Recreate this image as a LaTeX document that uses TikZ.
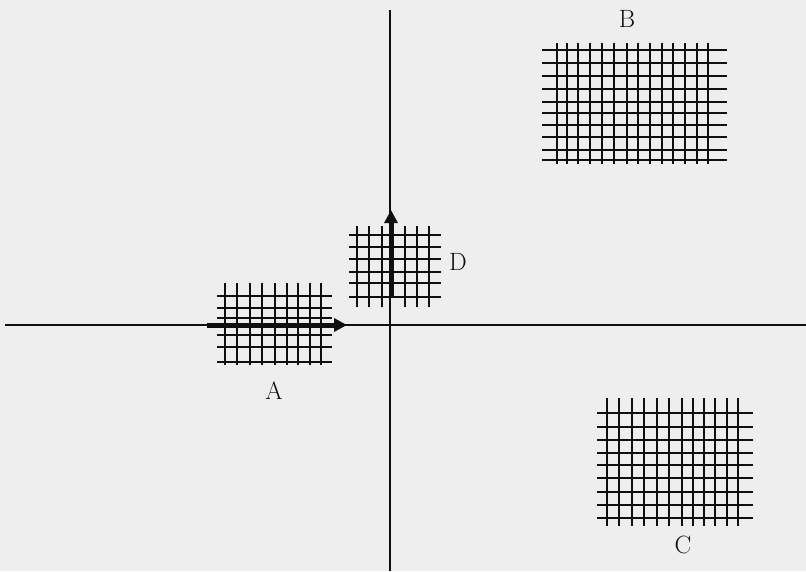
\documentclass[tikz,border=0pt]{standalone}
\usetikzlibrary{arrows.meta}
\definecolor{paper}{RGB}{238,238,238}
\definecolor{ink}{RGB}{15,15,15}
\tikzset{
  gridline/.style={draw=ink, line width=1.9pt},
  axisline/.style={draw=ink, line width=1.6pt},
  bigarrow/.style={draw=ink, line width=5pt, -{Triangle[length=13pt,width=13pt]}},
  lbl/.style={font=\fontsize{25}{25}\selectfont, text=ink, inner sep=0pt}
}
\begin{document}
\begin{tikzpicture}[x=1pt,y=-1pt]
\fill[paper] (0,0) rectangle (806,571);
\useasboundingbox (0,0) rectangle (806,571);
% axes
\coordinate (xl) at (5,325);
\coordinate (xr) at (806,325);
\coordinate (yt) at (390,10);
\coordinate (yb) at (390,571);
\draw[axisline] (xl) -- (xr);
\draw[axisline] (yt) -- (yb);
% grid A
\foreach \x in {225,237,250,262,275,287,298,310,321}
  \draw[gridline] (\x,283) -- (\x,365);
\foreach \y in {296,308,318,335,347,362}
  \draw[gridline] (217,\y) -- (332,\y);
% grid D
\foreach \x in {357,369,382,405,417,429}
  \draw[gridline] (\x,226) -- (\x,307);
\foreach \y in {235,247,259,272,283,297}
  \draw[gridline] (349,\y) -- (441,\y);
% grid B
\foreach \x in {557,567,578,590,602,614,627,638,650,662,673,685,697,708}
  \draw[gridline] (\x,43) -- (\x,164);
\foreach \y in {50,63,76,89,102,113,125,137,150,160}
  \draw[gridline] (542,\y) -- (727,\y);
% grid C
\foreach \x in {607,619,632,644,657,669,682,693,704,715,727,738}
  \draw[gridline] (\x,398) -- (\x,526);
\foreach \y in {413,427,440,453,465,478,492,505,518}
  \draw[gridline] (597,\y) -- (753,\y);
% arrows
\coordinate (a0) at (207,325);
\coordinate (a1) at (347,325);
\coordinate (d0) at (391,298);
\coordinate (d1) at (391,210);
\draw[bigarrow] (a0) -- (a1);
\draw[bigarrow] (d0) -- (d1);
% labels
\node[lbl] (A) at (274,391) {A};
\node[lbl] (B) at (627,19) {B};
\node[lbl] (C) at (683,545) {C};
\node[lbl] (D) at (458,262) {D};
\end{tikzpicture}
\end{document}
